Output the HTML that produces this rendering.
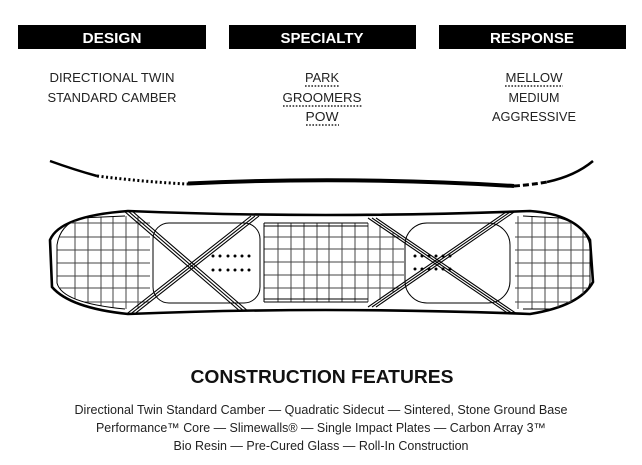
<!DOCTYPE html>
<html><head><meta charset="utf-8"><style>
html,body{margin:0;padding:0;background:#fff;}
svg{display:block;}
text{font-family:"Liberation Sans",Arial,sans-serif;}
</style></head><body>
<svg width="642" height="465" viewBox="0 0 642 465" xmlns="http://www.w3.org/2000/svg">
<defs>
<clipPath id="board"><path d="M128,211 Q322,219 530,211 Q575,214 590,240 L593,282 Q580,306 530,314 Q322,306 128,314 Q70,308 52,287 L50,240 Q60,216 128,211 Z"/></clipPath>
<clipPath id="lg"><path d="M125,216 L150,216 L150,309 L125,309 Q62,303 57,283 L57,245 Q60,225 80,218 Z"/></clipPath>
<clipPath id="rg"><path d="M515,216 L560,218 Q585,225 590,245 L590,283 Q585,303 560,309 L515,309 Z"/></clipPath>
</defs>
<!-- headers -->
<rect x="18" y="25" width="188" height="24" fill="#000"/>
<rect x="229" y="25" width="187" height="24" fill="#000"/>
<rect x="439" y="25" width="187" height="24" fill="#000"/>
<g fill="#fff" font-weight="bold" font-size="15" text-anchor="middle">
<text x="112" y="43" textLength="59" lengthAdjust="spacingAndGlyphs">DESIGN</text>
<text x="322" y="43" textLength="83" lengthAdjust="spacingAndGlyphs">SPECIALTY</text>
<text x="532" y="43" textLength="84" lengthAdjust="spacingAndGlyphs">RESPONSE</text>
</g>
<g fill="#222" font-size="13" text-anchor="middle">
<text x="112" y="82" textLength="125" lengthAdjust="spacingAndGlyphs">DIRECTIONAL TWIN</text>
<text x="112" y="102" textLength="129" lengthAdjust="spacingAndGlyphs">STANDARD CAMBER</text>
<text x="322" y="82" textLength="34" lengthAdjust="spacingAndGlyphs">PARK</text>
<text x="322" y="102" textLength="79" lengthAdjust="spacingAndGlyphs">GROOMERS</text>
<text x="322" y="121" textLength="33" lengthAdjust="spacingAndGlyphs">POW</text>
<text x="534" y="82" textLength="57" lengthAdjust="spacingAndGlyphs">MELLOW</text>
<text x="534" y="102" textLength="51" lengthAdjust="spacingAndGlyphs">MEDIUM</text>
<text x="534" y="121" textLength="84" lengthAdjust="spacingAndGlyphs">AGGRESSIVE</text>
</g>
<g stroke="#222" stroke-width="1.6" stroke-dasharray="1.6 1.6">
<line x1="305" y1="86" x2="339" y2="86"/>
<line x1="283" y1="106" x2="362" y2="106"/>
<line x1="306" y1="125" x2="339" y2="125"/>
<line x1="505" y1="86" x2="563" y2="86"/>
</g>
<!-- profile -->
<path d="M50,161 Q75,170 97,176" stroke="#000" stroke-width="2.5" fill="none"/>
<path d="M97,176 Q145,182 188,184" stroke="#000" stroke-width="3" fill="none" stroke-dasharray="2 2.5"/>
<path d="M188,183.5 Q350,176 514,186" stroke="#000" stroke-width="4" fill="none"/>
<path d="M514,186 Q530,185 547,182" stroke="#000" stroke-width="3" fill="none" stroke-dasharray="6 3"/>
<path d="M547,182 Q575,176 593,161" stroke="#000" stroke-width="2.5" fill="none"/>
<!-- board -->
<g fill="none" stroke="#000">
<path d="M128,211 Q322,219 530,211 Q575,214 590,240 L593,282 Q580,306 530,314 Q322,306 128,314 Q70,308 52,287 L50,240 Q60,216 128,211 Z" stroke-width="2.6"/>
<g clip-path="url(#board)" stroke-width="1">
<!-- left grid -->
<g clip-path="url(#lg)" stroke="#444">
<line x1="75" y1="210" x2="75" y2="315"/><line x1="88" y1="210" x2="88" y2="315"/><line x1="101" y1="210" x2="101" y2="315"/><line x1="113" y1="210" x2="113" y2="315"/><line x1="126" y1="210" x2="126" y2="315"/><line x1="138" y1="210" x2="138" y2="315"/>
<line x1="55" y1="223" x2="150" y2="223"/><line x1="55" y1="237" x2="150" y2="237"/><line x1="55" y1="250" x2="150" y2="250"/><line x1="55" y1="263" x2="150" y2="263"/><line x1="55" y1="276" x2="150" y2="276"/><line x1="55" y1="288" x2="150" y2="288"/><line x1="55" y1="302" x2="150" y2="302"/>
</g>
<path d="M125,216 L80,218 Q60,225 57,245 L57,283 Q62,303 125,309"/>
<!-- right grid -->
<g clip-path="url(#rg)" stroke="#444">
<line x1="518" y1="210" x2="518" y2="315"/><line x1="532" y1="210" x2="532" y2="315"/><line x1="545" y1="210" x2="545" y2="315"/><line x1="558" y1="210" x2="558" y2="315"/><line x1="571" y1="210" x2="571" y2="315"/><line x1="583" y1="210" x2="583" y2="315"/>
<line x1="510" y1="223" x2="595" y2="223"/><line x1="510" y1="237" x2="595" y2="237"/><line x1="510" y1="250" x2="595" y2="250"/><line x1="510" y1="263" x2="595" y2="263"/><line x1="510" y1="276" x2="595" y2="276"/><line x1="510" y1="288" x2="595" y2="288"/><line x1="510" y1="302" x2="595" y2="302"/>
</g>
<path d="M523,216 L560,218 Q585,225 590,245 L590,283 Q585,303 560,309 L523,309"/>
<!-- center grid -->
<g stroke="#444">
<line x1="278" y1="223" x2="278" y2="302"/><line x1="291" y1="223" x2="291" y2="302"/><line x1="304" y1="223" x2="304" y2="302"/><line x1="317" y1="223" x2="317" y2="302"/><line x1="329" y1="223" x2="329" y2="302"/><line x1="342" y1="223" x2="342" y2="302"/><line x1="355" y1="223" x2="355" y2="302"/><line x1="368" y1="223" x2="368" y2="302"/><line x1="380" y1="225" x2="380" y2="300"/><line x1="393" y1="232" x2="393" y2="293"/>
<line x1="264" y1="237" x2="400" y2="237"/><line x1="264" y1="249" x2="404" y2="249"/><line x1="264" y1="262" x2="404" y2="262"/><line x1="264" y1="275" x2="404" y2="275"/><line x1="264" y1="288" x2="400" y2="288"/>
</g>
<path d="M264,223 L368,223 M264,226 L368,226 M264,302 L368,302 M264,299 L368,299 M264,223 L264,302"/>
<!-- bindings -->
<rect x="153" y="223" width="107" height="80" rx="16" fill="#fff"/>
<rect x="405" y="223" width="105" height="80" rx="22" fill="#fff"/>
<!-- crosses -->
<g stroke-width="1.1">
<line x1="124" y1="211" x2="241" y2="312"/><line x1="128" y1="211" x2="245" y2="312"/><line x1="132" y1="211" x2="249" y2="312"/>
<line x1="251" y1="216" x2="124" y2="316"/><line x1="255" y1="216" x2="128" y2="316"/><line x1="259" y1="216" x2="132" y2="316"/>
<line x1="368" y1="218" x2="509" y2="314"/><line x1="372" y1="218" x2="513" y2="314"/><line x1="376" y1="218" x2="517" y2="314"/>
<line x1="509" y1="210" x2="368" y2="307"/><line x1="513" y1="210" x2="372" y2="307"/><line x1="517" y1="210" x2="376" y2="307"/>
</g>
</g>
</g>
<!-- dots -->
<g fill="#000">
<circle cx="213" cy="256" r="1.5"/><circle cx="220" cy="256" r="1.5"/><circle cx="228" cy="256" r="1.5"/><circle cx="235" cy="256" r="1.5"/><circle cx="242" cy="256" r="1.5"/><circle cx="249" cy="256" r="1.5"/>
<circle cx="213" cy="270" r="1.5"/><circle cx="220" cy="270" r="1.5"/><circle cx="228" cy="270" r="1.5"/><circle cx="235" cy="270" r="1.5"/><circle cx="242" cy="270" r="1.5"/><circle cx="249" cy="270" r="1.5"/>
<circle cx="415" cy="256" r="1.5"/><circle cx="422" cy="256" r="1.5"/><circle cx="429" cy="256" r="1.5"/><circle cx="436" cy="256" r="1.5"/><circle cx="443" cy="256" r="1.5"/><circle cx="450" cy="256" r="1.5"/>
<circle cx="415" cy="269" r="1.5"/><circle cx="422" cy="269" r="1.5"/><circle cx="429" cy="269" r="1.5"/><circle cx="436" cy="269" r="1.5"/><circle cx="443" cy="269" r="1.5"/><circle cx="450" cy="269" r="1.5"/>
</g>
<!-- title & features -->
<text x="322" y="383" font-size="18" font-weight="bold" text-anchor="middle" fill="#111" textLength="263" lengthAdjust="spacingAndGlyphs">CONSTRUCTION FEATURES</text>
<g font-size="12.5" fill="#222" text-anchor="middle">
<text x="321" y="414" textLength="493" lengthAdjust="spacingAndGlyphs">Directional Twin Standard Camber — Quadratic Sidecut — Sintered, Stone Ground Base</text>
<text x="321" y="432" textLength="450" lengthAdjust="spacingAndGlyphs">Performance™ Core — Slimewalls® — Single Impact Plates — Carbon Array 3™</text>
<text x="321" y="450" textLength="295" lengthAdjust="spacingAndGlyphs">Bio Resin — Pre-Cured Glass — Roll-In Construction</text>
</g>
</svg>
</body></html>
